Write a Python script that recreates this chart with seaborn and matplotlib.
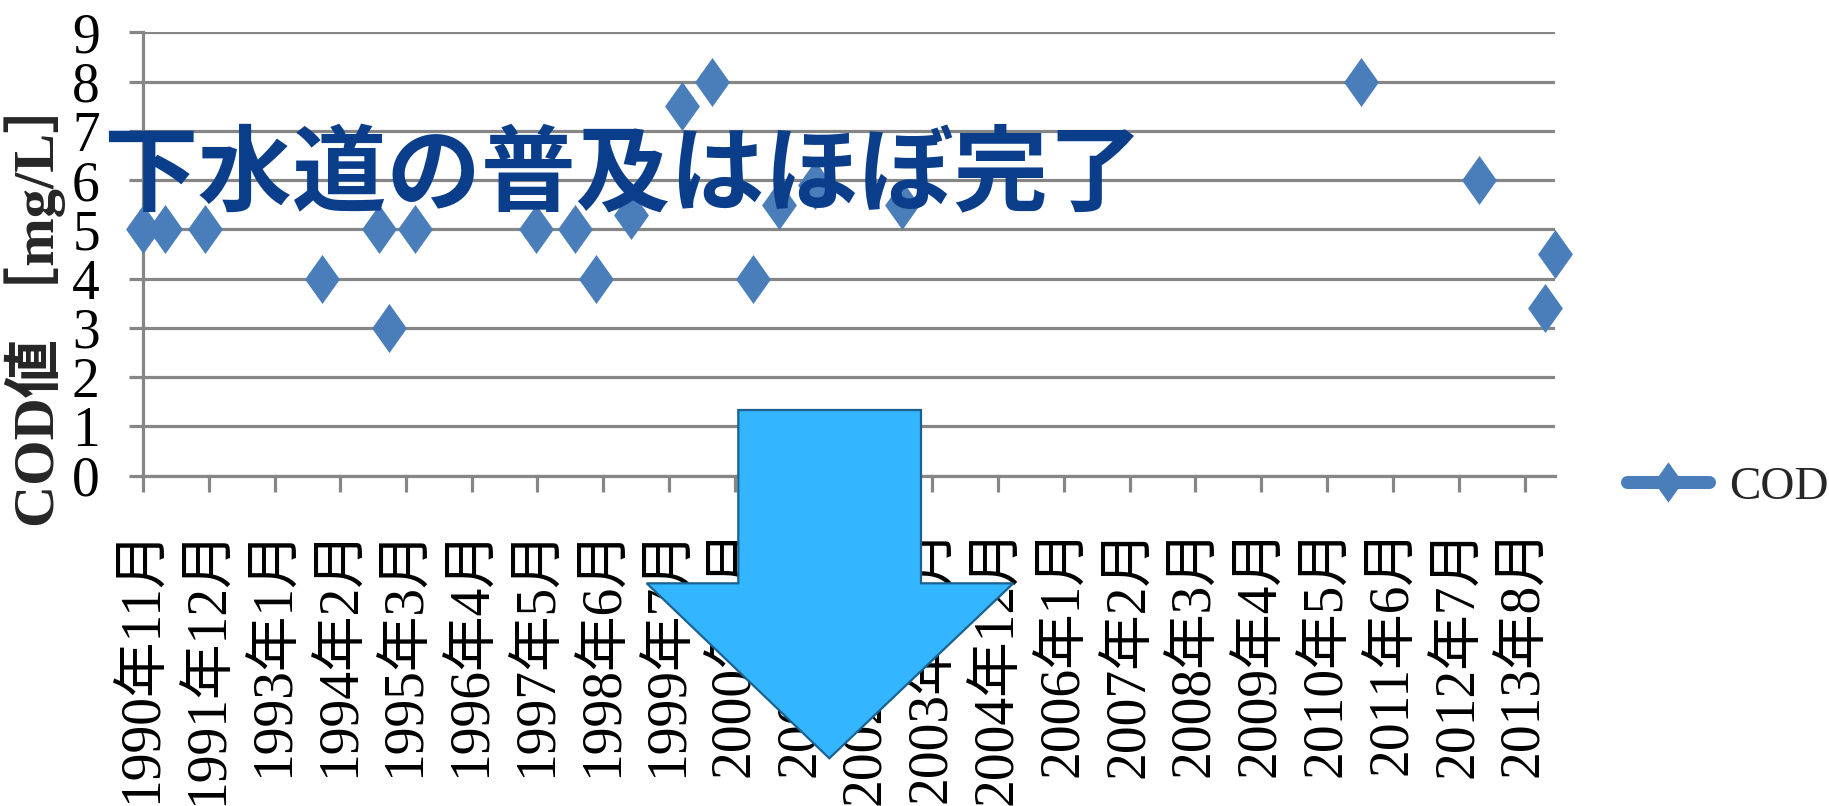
import re
import numpy as np
import pandas as pd
import matplotlib
matplotlib.use("Agg")
import matplotlib.pyplot as plt
import matplotlib.dates as mdates
from matplotlib.lines import Line2D
from matplotlib.patches import Polygon
import seaborn as sns

# ---------------- data ----------------
sample_dates = ["1990-11-01", "1991-03-15", "1991-11-10", "1993-10-15", "1994-09-20",
                "1994-11-22", "1995-04-25", "1997-04-20", "1997-12-15", "1998-04-15",
                "1998-11-15", "1999-09-15", "2000-03-15", "2000-11-15", "2001-04-25",
                "2001-11-25", "2003-05-01", "2010-11-20", "2012-10-28", "2013-11-29",
                "2014-01-28"]
cod_values = [5, 5, 5, 4, 5, 3, 5, 5, 5, 4, 5.3, 7.5, 8, 4, 5.5, 5.9, 5.5, 8, 6, 3.4, 4.5]
series_name = "COD"
tick_labels = ["1990年11月", "1991年12月", "1993年1月", "1994年2月", "1995年3月",
               "1996年4月", "1997年5月", "1998年6月", "1999年7月", "2000年8月",
               "2001年9月", "2002年10月", "2003年11月", "2004年12月", "2006年1月",
               "2007年2月", "2008年3月", "2009年4月", "2010年5月", "2011年6月",
               "2012年7月", "2013年8月"]
y_ticks = [0, 1, 2, 3, 4, 5, 6, 7, 8, 9]
y_label = "COD値 ［mg/L］"
title_text = "下水道の普及はほぼ完了"

# ---------------- style ----------------
sns.set_theme(style="white")
plt.rcParams["font.family"] = ["Liberation Serif", "Noto Sans CJK JP"]
SERIF = ["Liberation Serif", "Noto Sans CJK JP"]
GRID = "#868686"
MARK = "#4a7ebb"

W, H = 1829, 806
fig = plt.figure(figsize=(W / 100, H / 100), dpi=100)
ax = fig.add_axes([142.9 / W, 1 - 475.5 / H, (1554.5 - 142.9) / W, (475.5 - 32.3) / H])

df = pd.DataFrame({"date": pd.to_datetime(sample_dates), "COD": cod_values})
diamond = [(0, 1), (0.71, 0), (0, -1), (-0.71, 0), (0, 1)]

sns.scatterplot(data=df, x="date", y="COD", ax=ax, marker=diamond, s=1246,
                color=MARK, linewidth=0, clip_on=False, zorder=3, legend=False)

# axes
ax.set_xlim(df["date"].min(), df["date"].max())
ax.set_ylim(0, 9)
ax.set_yticks(y_ticks)
ax.set_yticklabels([str(v) for v in y_ticks], family=SERIF, fontsize=40)

tick_dates = []
for lab in tick_labels:
    y, m = re.match(r"(\d+)年(\d+)月", lab).groups()
    tick_dates.append(pd.Timestamp(int(y), int(m), 1))
ax.set_xticks(tick_dates)
ax.set_xticklabels(tick_labels, rotation=90, fontsize=40, va="top", ha="center",
                   family=SERIF)

ax.grid(False)
ax.yaxis.grid(True, color=GRID, linewidth=2.3)
ax.set_axisbelow(True)
for side in ["top", "right"]:
    ax.spines[side].set_visible(False)
for side in ["left", "bottom"]:
    ax.spines[side].set_color(GRID)
    ax.spines[side].set_linewidth(2.3)
ax.tick_params(axis="y", direction="out", length=10, width=2.3, color=GRID, pad=21,
               labelcolor="black", left=True)
ax.tick_params(axis="x", direction="out", length=11.5, width=2.3, color=GRID, pad=26,
               labelcolor="black", bottom=True)
ax.set_xlabel("")
ax.set_ylabel(y_label, fontsize=42, fontweight="bold", family=SERIF, va="center")
ax.yaxis.set_label_coords(-0.0764, 0.394)

# legend (line + diamond like the original)
handle = Line2D([0], [0], color=MARK, lw=9.4, solid_capstyle="round",
                marker=diamond, markersize=29, markeredgewidth=0, markerfacecolor=MARK)
fig.legend([handle], [series_name], loc="center left",
           bbox_to_anchor=(1626.5 / W, 1 - 487 / H), frameon=False,
           prop={"family": SERIF, "size": 34},
           handlelength=1.75, handletextpad=0.42, borderpad=0, borderaxespad=0)

# title overlay
fig.text(103 / W, 1 - 204 / H, title_text, fontsize=68, fontweight="bold",
         color="#0b3e8a", family=["Noto Sans CJK JP"], ha="left", va="baseline",
         zorder=6)

# big down arrow annotation
arrow_px = [(738.3, 410), (921, 410), (921, 583.3), (1013.3, 583.3),
            (829.3, 758.3), (646.7, 583.3), (738.3, 583.3)]
arrow = Polygon([(x / W, 1 - y / H) for x, y in arrow_px], closed=True,
                transform=fig.transFigure, facecolor="#33b5ff",
                edgecolor="#1b6290", linewidth=1.6, zorder=7)
fig.add_artist(arrow)

fig.savefig("out.png", dpi=100)
